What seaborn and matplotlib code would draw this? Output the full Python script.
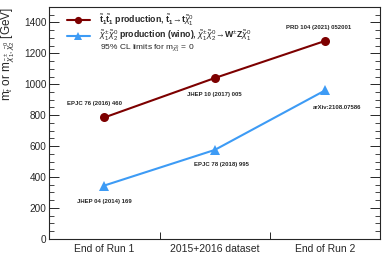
import numpy as np
import pandas as pd
import matplotlib
matplotlib.use("Agg")
import matplotlib.pyplot as plt
import seaborn as sns
from matplotlib.ticker import MultipleLocator, FixedLocator, NullLocator

categories = ["End of Run 1", "2015+2016 dataset", "End of Run 2"]
stop_limits = [785, 1040, 1280]
wino_limits = [345, 575, 960]
stop_refs = ["EPJC 76 (2016) 460", "JHEP 10 (2017) 005", "PRD 104 (2021) 052001"]
wino_refs = ["JHEP 04 (2014) 169", "EPJC 78 (2018) 995", "arXiv:2108.07586"]

sns.set_style("ticks")
plt.rcParams["font.family"] = ["Liberation Sans", "DejaVu Sans"]
plt.rcParams["mathtext.fontset"] = "custom"
plt.rcParams["mathtext.rm"] = "Liberation Sans"
plt.rcParams["mathtext.it"] = "Liberation Sans:italic"
plt.rcParams["mathtext.bf"] = "Liberation Sans:bold"

RED = "#7d0000"
BLUE = "#3d9bf5"

stop_label = r"$\tilde{\mathbf{t}}_\mathbf{1}\tilde{\mathbf{t}}_\mathbf{1}$ production, $\tilde{\mathbf{t}}_\mathbf{1}\!\rightarrow\!\mathbf{t}\tilde{\chi}^0_1$"
wino_label = r"$\tilde{\chi}^{\pm}_1\tilde{\chi}^0_2$ production (wino), $\tilde{\chi}^{\pm}_1\tilde{\chi}^0_2\!\rightarrow\!\mathbf{W}^{\pm}\mathbf{Z}\tilde{\chi}^0_1$"

df = pd.DataFrame({
    "pos": list(range(len(categories))) * 2,
    "limit": stop_limits + wino_limits,
    "process": [stop_label] * 3 + [wino_label] * 3,
})

fig = plt.figure(figsize=(3.9, 2.66), dpi=100)
ax = fig.add_axes([0.126, 0.102, 0.849, 0.872])

sns.lineplot(data=df, x="pos", y="limit", hue="process", style="process",
             palette=[RED, BLUE], markers=["o", "^"], dashes=False,
             markersize=6.5, markeredgewidth=0, linewidth=1.5, ax=ax)

ax.set_xlim(-0.5, 2.5)
ax.set_ylim(0, 1500)
ax.xaxis.set_major_locator(FixedLocator([0.5, 1.5]))
ax.set_xticklabels([])
ax.xaxis.set_minor_locator(NullLocator())
for i, c in enumerate(categories):
    ax.text(i, -30, c, ha="center", va="top", fontsize=7.5)
ax.yaxis.set_major_locator(MultipleLocator(200))
ax.yaxis.set_minor_locator(MultipleLocator(50))
ax.tick_params(axis="y", which="major", direction="in", length=7, width=0.7,
               labelsize=7.2, right=True, pad=2)
ax.tick_params(axis="y", which="minor", direction="in", length=3.5, width=0.6,
               right=True)
ax.tick_params(axis="x", which="major", direction="in", length=5, width=0.7)
for s in ax.spines.values():
    s.set_linewidth(0.8)
ax.set_xlabel("")
ax.set_ylabel(r"m$_{\tilde{t}}$ or m$_{\tilde{\chi}^{\pm}_1,\tilde{\chi}^0_2}$ [GeV]",
              fontsize=8.5, labelpad=5, loc="top")

# reference annotations (offset from their point: dx in categories, dy in GeV)
stop_off = [(-0.09, 75, "bottom"), (0.0, -90, "top"), (-0.06, 70, "bottom")]
wino_off = [(0.0, -85, "top"), (0.06, -75, "top"), (0.11, -95, "top")]
for i, (ref, y) in enumerate(zip(stop_refs, stop_limits)):
    dx, dy, va = stop_off[i]
    ax.text(i + dx, y + dy, ref, ha="center", va=va, fontsize=4.3, fontweight="bold")
for i, (ref, y) in enumerate(zip(wino_refs, wino_limits)):
    dx, dy, va = wino_off[i]
    ax.text(i + dx, y + dy, ref, ha="center", va=va, fontsize=4.3, fontweight="bold")

leg = ax.legend(loc="upper left", bbox_to_anchor=(0.054, 0.975), frameon=False,
                fontsize=6.3, handlelength=2.6, handletextpad=1.1,
                borderaxespad=0, borderpad=0, labelspacing=0.1, markerscale=0.8)
for t in leg.get_texts():
    t.set_fontweight("bold")
ax.text(0.154, 0.822, r"95% CL limits for m$_{\tilde{\chi}^0_1}$ = 0",
        transform=ax.transAxes, fontsize=6.0, va="center")

fig.savefig("out.png", dpi=100)
